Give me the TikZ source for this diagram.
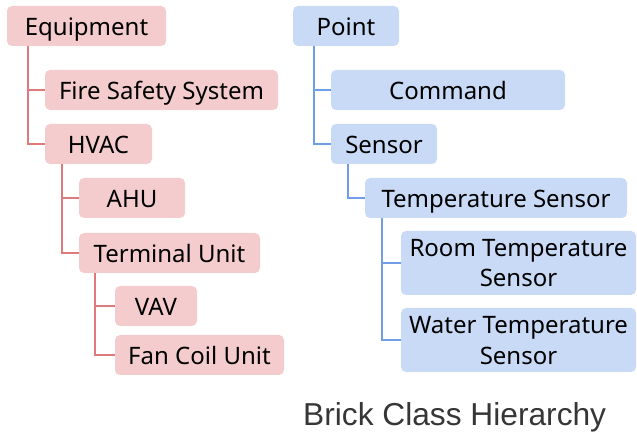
\documentclass[tikz,border=0pt]{standalone}
\usepackage{fontspec}
\setmainfont{Noto Sans}
\newfontfamily\titlefont{Liberation Sans}
\definecolor{eqfill}{HTML}{F4CCCD}
\definecolor{eqline}{HTML}{DE7A7C}
\definecolor{ptfill}{HTML}{C9DAF6}
\definecolor{ptline}{HTML}{6F9EE6}
\definecolor{titlegray}{HTML}{363636}
\tikzset{
  box/.style={rectangle, rounded corners=5pt, inner sep=0pt, align=center,
    minimum height=40pt, font=\fontsize{24}{30}\selectfont},
  oneline/.style={text height=20pt, text depth=0pt},
  twoline/.style={minimum height=64pt, text height=52pt, text depth=4pt},
  eqbox/.style={box, fill=eqfill},
  ptbox/.style={box, fill=ptfill},
  eqlink/.style={draw=eqline, line width=1.5pt},
  ptlink/.style={draw=ptline, line width=1.5pt},
}
\begin{document}
\begin{tikzpicture}[x=1pt, y=-1pt]
\useasboundingbox (0,0) rectangle (637,435);

% Equipment branch
\node[eqbox, oneline, minimum width=159pt] (equip) at (86.5,26) {Equipment};
\node[eqbox, oneline, minimum width=233pt] (fss)   at (161.5,90) {Fire Safety System};
\node[eqbox, oneline, minimum width=107pt] (hvac)  at (98.5,144) {HVAC};
\node[eqbox, oneline, minimum width=106pt] (ahu)   at (132,198) {AHU};
\node[eqbox, oneline, minimum width=181pt] (term)  at (169.5,253) {Terminal Unit};
\node[eqbox, oneline, minimum width=82pt]  (vav)   at (156,306) {VAV};
\node[eqbox, oneline, minimum width=169pt] (fcu)   at (199.5,355) {Fan Coil Unit};

% Point branch
\node[ptbox, oneline, minimum width=106pt] (point)  at (346,26) {Point};
\node[ptbox, oneline, minimum width=234pt] (cmd)    at (448,90) {Command};
\node[ptbox, oneline, minimum width=106pt] (sensor) at (384,144) {Sensor};
\node[ptbox, oneline, minimum width=262pt] (temp)   at (496,198) {Temperature Sensor};
\node[ptbox, twoline, minimum width=235pt] (room)  at (518.5,263) {Room Temperature\\Sensor};
\node[ptbox, twoline, minimum width=235pt] (water) at (518.5,340) {Water Temperature\\Sensor};

% tree connectors: each parent drops a stem from its lower left
\coordinate (equipstem)  at ([xshift=21pt]equip.south west);
\coordinate (hvacstem)   at ([xshift=17pt]hvac.south west);
\coordinate (termstem)   at ([xshift=16pt]term.south west);
\coordinate (pointstem)  at ([xshift=21pt]point.south west);
\coordinate (sensorstem) at ([xshift=17pt]sensor.south west);
\coordinate (tempstem)   at ([xshift=17pt]temp.south west);

\draw[eqlink] (equipstem) |- (fss.west);
\draw[eqlink] (equipstem) |- (hvac.west);
\draw[eqlink] (hvacstem) |- (ahu.west);
\draw[eqlink] (hvacstem) |- (term.west);
\draw[eqlink] (termstem) |- (vav.west);
\draw[eqlink] (termstem) |- (fcu.west);

\draw[ptlink] (pointstem) |- (cmd.west);
\draw[ptlink] (pointstem) |- (sensor.west);
\draw[ptlink] (sensorstem) |- (temp.west);
\draw[ptlink] (tempstem) |- (room.west);
\draw[ptlink] (tempstem) |- (water.west);

\node[anchor=base west, inner sep=0pt, text=titlegray,
  font=\titlefont\fontsize{31.7}{36}\selectfont] (title) at (303,425) {Brick Class Hierarchy};
\end{tikzpicture}
\end{document}
